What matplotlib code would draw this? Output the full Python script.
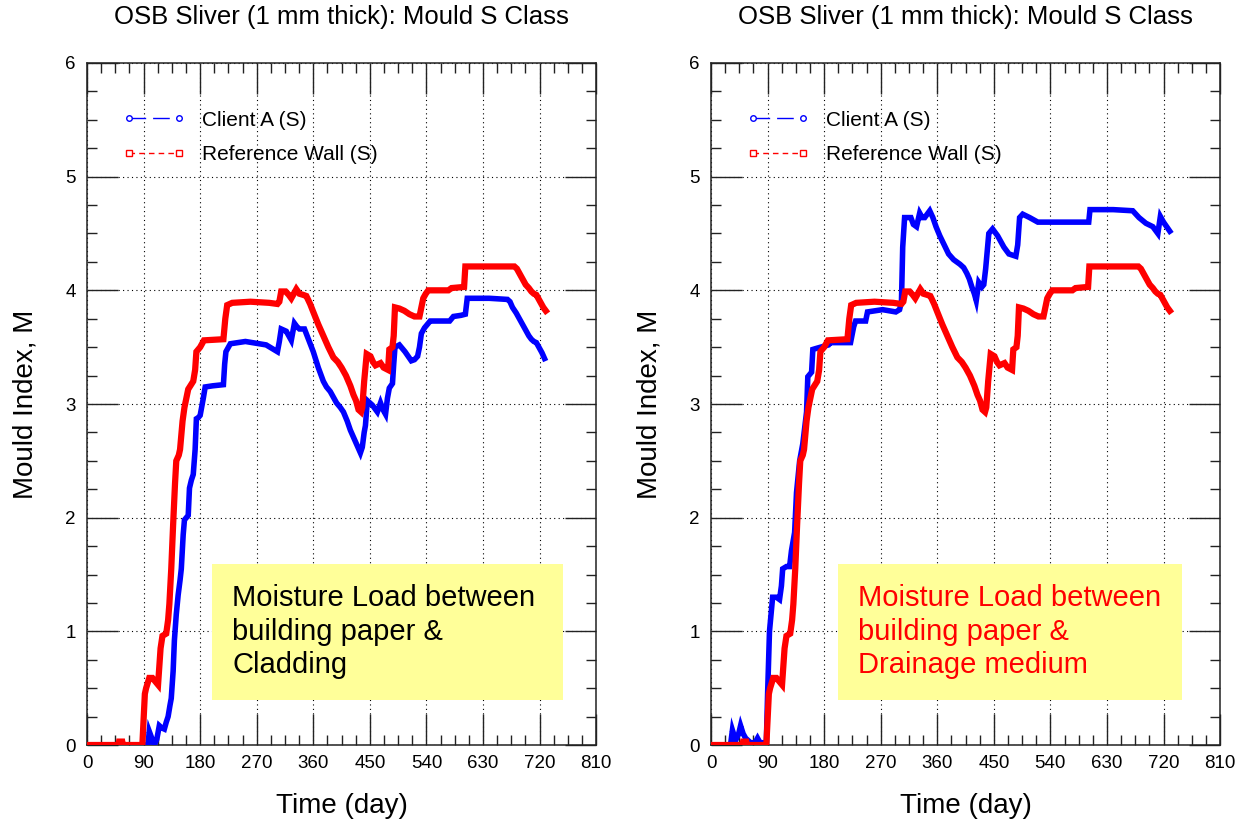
import matplotlib
matplotlib.use("Agg")
import matplotlib.pyplot as plt
from matplotlib.lines import Line2D
from matplotlib.patches import Rectangle
from matplotlib.ticker import MultipleLocator

plt.rcParams['font.family'] = ['Liberation Sans', 'DejaVu Sans']

# Reference wall (same curve in both panels)
ref_days = [0, 50, 51, 56, 57, 88, 92, 94, 99, 104,
            110, 113, 117, 120, 126, 129, 131, 134, 137, 140,
            142, 146, 148, 152, 155, 161, 169, 172, 174, 180,
            186, 217, 220, 223, 231, 260, 290, 303, 306, 309,
            316, 321, 325, 330, 333, 338, 344, 349, 355, 360,
            368, 376, 384, 392, 399, 405, 412, 419, 424, 428,
            432, 436, 438, 441, 445, 451, 455, 459, 467, 472,
            479, 481, 486, 488, 490, 497, 505, 513, 521, 529,
            532, 535, 539, 543, 560, 575, 580, 600, 602, 640,
            680, 684, 688, 693, 698, 703, 707, 711, 715, 719,
            722, 726, 730]
ref_m = [0, 0, 0.03, 0.03, 0, 0, 0.45, 0.5, 0.59, 0.59,
         0.55, 0.53, 0.85, 0.96, 0.98, 1.1, 1.24, 1.55, 1.94, 2.3,
         2.5, 2.55, 2.6, 2.85, 2.97, 3.13, 3.2, 3.3, 3.46, 3.5,
         3.56, 3.57, 3.75, 3.87, 3.89, 3.9, 3.89, 3.88, 3.9, 3.99,
         3.99, 3.96, 3.93, 3.98, 4.01, 3.97, 3.96, 3.95, 3.88, 3.81,
         3.7, 3.6, 3.5, 3.41, 3.37, 3.32, 3.25, 3.16, 3.08, 3.03,
         2.95, 2.93, 2.97, 3.2, 3.44, 3.42, 3.37, 3.34, 3.36, 3.32,
         3.3, 3.48, 3.5, 3.6, 3.85, 3.84, 3.82, 3.79, 3.77, 3.77,
         3.85, 3.93, 3.97, 4.0, 4.0, 4.0, 4.02, 4.03, 4.21, 4.21,
         4.21, 4.19, 4.15, 4.1, 4.05, 4.02, 3.99, 3.97, 3.96, 3.92,
         3.89, 3.85, 3.82]

# Client A - cladding
clad_days = [0, 97, 99, 103, 107, 111, 115, 119, 123, 126,
             129, 132, 134, 137, 139, 142, 145, 148, 150, 153,
             155, 158, 161, 163, 166, 169, 172, 174, 177, 180,
             185, 188, 200, 217, 219, 221, 228, 252, 285, 303,
             306, 309, 313, 317, 321, 325, 330, 334, 338, 346,
             353, 360, 368, 376, 381, 387, 392, 397, 403, 408,
             414, 419, 423, 427, 431, 435, 438, 441, 443, 446,
             450, 454, 458, 462, 467, 471, 475, 478, 481, 486,
             488, 490, 497, 506, 516, 521, 526, 529, 532, 537,
             543, 546, 560, 577, 583, 595, 602, 605, 640, 669,
             673, 677, 683, 688, 693, 699, 703, 707, 711, 715,
             720, 724, 728]
clad_m = [0, 0, 0.12, 0.06, 0, 0.05, 0.17, 0.15, 0.14, 0.2,
          0.25, 0.35, 0.41, 0.65, 0.92, 1.15, 1.32, 1.45, 1.55, 1.85,
          1.98, 2.0, 2.02, 2.26, 2.33, 2.38, 2.6, 2.87, 2.88, 2.9,
          3.05, 3.15, 3.16, 3.17, 3.35, 3.46, 3.53, 3.55, 3.52, 3.46,
          3.55, 3.66, 3.65, 3.64, 3.6, 3.56, 3.71, 3.68, 3.66, 3.66,
          3.56, 3.46, 3.32, 3.2, 3.15, 3.11, 3.06, 3.01, 2.97, 2.93,
          2.85, 2.77, 2.72, 2.67, 2.62, 2.57, 2.62, 2.75, 2.81, 3.03,
          3.01, 2.99, 2.96, 2.93, 3.01, 2.95, 2.91, 3.05, 3.14, 3.18,
          3.35, 3.5, 3.52, 3.46, 3.38, 3.39, 3.42, 3.5, 3.62, 3.67,
          3.71, 3.73, 3.73, 3.73, 3.77, 3.78, 3.79, 3.93, 3.93, 3.92,
          3.9, 3.85, 3.8, 3.75, 3.7, 3.64, 3.6, 3.57, 3.55, 3.54,
          3.49, 3.45, 3.4]

# Client A - drainage medium
drain_days = [0, 31, 34, 39, 44, 47, 51, 55, 63, 70,
              74, 78, 82, 88, 90, 93, 98, 104, 109, 112,
              114, 120, 125, 128, 133, 136, 141, 146, 152, 154,
              160, 162, 168, 187, 190, 222, 227, 230, 246, 249,
              273, 294, 300, 303, 305, 308, 318, 322, 327, 332,
              336, 340, 348, 353, 358, 364, 371, 378, 386, 396,
              402, 407, 411, 415, 419, 422, 426, 431, 434, 437,
              442, 448, 456, 461, 466, 474, 485, 488, 491, 496,
              507, 520, 560, 601, 603, 640, 671, 681, 692, 703,
              711, 715, 720, 725, 730]
drain_m = [0, 0, 0.13, 0.04, 0.1, 0.17, 0.1, 0.06, 0.02, 0.02,
           0.06, 0.02, 0.02, 0.02, 0.45, 1.0, 1.3, 1.3, 1.28, 1.4,
           1.55, 1.57, 1.57, 1.71, 1.87, 2.22, 2.5, 2.65, 2.93, 3.24,
           3.28, 3.48, 3.49, 3.52, 3.54, 3.54, 3.68, 3.73, 3.73, 3.81,
           3.83, 3.81, 3.83, 3.9, 4.38, 4.64, 4.64, 4.58, 4.56, 4.68,
           4.64, 4.64, 4.7, 4.64, 4.56, 4.48, 4.4, 4.32, 4.27, 4.23,
           4.2, 4.15, 4.1, 4.03, 3.97, 3.91, 4.07, 4.03, 4.05, 4.19,
           4.5, 4.54, 4.48, 4.43, 4.38, 4.32, 4.3, 4.4, 4.64, 4.67,
           4.64, 4.6, 4.6, 4.6, 4.71, 4.71, 4.7, 4.64, 4.59, 4.56,
           4.5, 4.65, 4.6, 4.56, 4.52]

title = "OSB Sliver (1 mm thick): Mould S Class"
labels = ["Client A (S)", "Reference Wall (S)"]
notes = ["Moisture Load between\nbuilding paper &\nCladding",
         "Moisture Load between\nbuilding paper &\nDrainage medium"]
note_colors = ["black", "red"]

fig = plt.figure(figsize=(12.47, 8.30), dpi=100)
ax1 = fig.add_axes([0.0698, 0.1024, 0.4082, 0.8217])
ax2 = fig.add_axes([0.5702, 0.1024, 0.4082, 0.8217])

panels = [(ax1, clad_days, clad_m, notes[0], note_colors[0], 0.2456, 0.690, 0.285),
          (ax2, drain_days, drain_m, notes[1], note_colors[1], 0.2495, 0.676, 0.289)]

for ax, bd, bm, note, ncol, bx, bw, tx in panels:
    ax.plot(bd, bm, color='blue', lw=4, zorder=3, solid_joinstyle='miter')
    ax.plot(ref_days, ref_m, color='red', lw=4.5, zorder=3, solid_joinstyle='miter')

    ax.set_xlim(0, 810)
    ax.set_ylim(0, 6)
    ax.xaxis.set_major_locator(MultipleLocator(90))
    ax.xaxis.set_minor_locator(MultipleLocator(22.5))
    ax.yaxis.set_major_locator(MultipleLocator(1))
    ax.yaxis.set_minor_locator(MultipleLocator(0.25))
    ax.tick_params(which='both', direction='in', top=True, right=True,
                   width=1, color='#222222')
    ax.tick_params(which='major', length=22, labelsize=13.5)
    ax.tick_params(axis='x', which='major', pad=7)
    ax.tick_params(axis='y', which='major', pad=8)
    ax.tick_params(which='minor', length=7)
    ax.grid(which='major', color='black', linestyle=(0, (1, 3)), linewidth=0.8)
    for s in ax.spines.values():
        s.set_linewidth(1.1)
        s.set_color('#222222')

    ax.set_title(title, fontsize=18.5, pad=28)
    ax.set_xlabel("Time (day)", fontsize=20)
    ax.set_ylabel("Mould Index, M", fontsize=20)
    ax.xaxis.set_label_coords(0.5, -0.07)
    ax.yaxis.set_label_coords(-0.095, 0.5)

    ax.add_patch(Rectangle((bx, 0.066), bw, 0.2, transform=ax.transAxes,
                           facecolor='#FFFF99', edgecolor='none', zorder=2))
    ax.text(tx, 0.166, note, transform=ax.transAxes, fontsize=21, color=ncol,
            ha='left', va='center', linespacing=1.25, zorder=4)

    handles = [Line2D([], [], color='blue', lw=1, dashes=(12, 5), marker='o',
                      markersize=4, markerfacecolor='white', markeredgecolor='blue'),
               Line2D([], [], color='red', lw=1, dashes=(4, 3), marker='s',
                      markersize=4.5, markerfacecolor='white', markeredgecolor='red')]
    ax.legend(handles, labels, loc='upper left', bbox_to_anchor=(0.071, 0.93),
              frameon=False, fontsize=15, numpoints=2, handlelength=3.0,
              handletextpad=0.8, labelspacing=0.75, borderpad=0, borderaxespad=0)

fig.savefig("out.png", dpi=100)
